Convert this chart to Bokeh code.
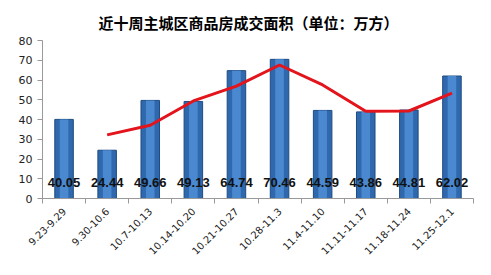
from bokeh.plotting import figure
from bokeh.models import ColumnDataSource, FixedTicker, Range1d
from bokeh.embed import file_html
from bokeh.resources import INLINE
from bokeh.core.properties import value
import math

weeks = ["9.23-9.29", "9.30-10.6", "10.7-10.13", "10.14-10.20", "10.21-10.27",
         "10.28-11.3", "11.4-11.10", "11.11-11.17", "11.18-11.24", "11.25-12.1"]
areas = [40.05, 24.44, 49.66, 49.13, 64.74, 70.46, 44.59, 43.86, 44.81, 62.02]
trend = [None, 32.2, 37.1, 49.4, 56.9, 67.6, 57.5, 44.2, 44.3, 53.4]
y_ticks = [0, 10, 20, 30, 40, 50, 60, 70, 80]

xs = [i + 0.5 for i in range(len(weeks))]
labels = ["%.2f" % v for v in areas]
src = ColumnDataSource(dict(x=xs, top=areas, lab=labels, ly=[8] * len(xs)))
tx = [x for x, t in zip(xs, trend) if t is not None]
ty = [t for t in trend if t is not None]

p = figure(width=491, height=275, output_backend="svg", toolbar_location=None,
           x_range=Range1d(0, len(weeks)), y_range=Range1d(0, 80),
           min_border_left=42, min_border_right=18, min_border_top=40, min_border_bottom=77)
p.title.text = "近十周主城区商品房成交面积（单位：万方）"
p.title.align = "left"
p.title.text_font = "Noto Sans CJK SC"
p.title.text_font_size = "15px"
p.title.text_font_style = "bold"
p.title.text_color = "#000000"
p.title.offset = 56
p.title.standoff = 15
p.outline_line_color = None
p.grid.visible = False

p.vbar(x="x", top="top", width=0.43, source=src, fill_color="#2F68AC", line_color="#1E4C82")
p.vbar(x="x", top="top", width=0.2, source=src, fill_color="#4A88D0", line_color=None)
p.line(tx, ty, line_color="#E3141B", line_width=3)
p.text(x="x", y="ly", text="lab", source=src, text_align="center", text_baseline="middle",
       text_font=value("Liberation Sans"), text_font_size="13px", text_font_style="bold",
       text_color="#111111")

ya = p.yaxis[0]
ya.ticker = FixedTicker(ticks=y_ticks)
ya.axis_line_color = "#999999"
ya.major_tick_line_color = "#999999"
ya.major_tick_in = 0
ya.major_tick_out = 5
ya.minor_tick_line_color = None
ya.major_label_text_font = "DejaVu Sans"
ya.major_label_text_font_size = "11px"
ya.major_label_text_color = "#222222"

xa = p.xaxis[0]
xa.ticker = FixedTicker(ticks=xs, minor_ticks=list(range(len(weeks) + 1)))
xa.major_label_overrides = {x: w for x, w in zip(xs, weeks)}
xa.axis_line_color = "#999999"
xa.major_tick_line_color = None
xa.minor_tick_line_color = "#999999"
xa.minor_tick_in = 0
xa.minor_tick_out = 5
xa.major_label_orientation = math.pi / 4
xa.major_label_text_font = "DejaVu Sans"
xa.major_label_text_font_size = "10px"
xa.major_label_text_color = "#222222"

open("out.html", "w").write(file_html(p, INLINE))
